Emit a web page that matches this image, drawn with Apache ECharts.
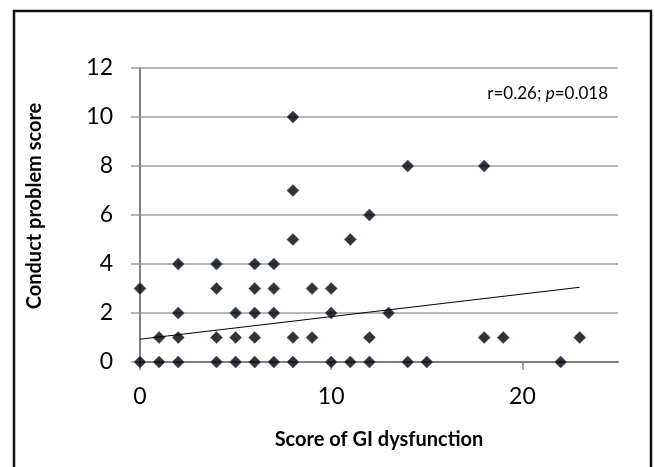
<!DOCTYPE html>
<html>
<head>
<meta charset="utf-8">
<script src="https://cdn.jsdelivr.net/npm/echarts@6/dist/echarts.min.js"></script>
<style>
  html, body { margin: 0; padding: 0; background: #fff; }
  #chart { width: 655px; height: 467px; }
</style>
</head>
<body>
<div id="chart"></div>
<script>
// GI dysfunction score (x) vs conduct problem score (y)
const giScore = [0, 0, 1, 1, 2, 2, 2, 2, 4, 4, 4, 4, 5, 5, 5, 6, 6, 6, 6, 6,
  7, 7, 7, 7, 8, 8, 8, 8, 8, 9, 9, 10, 10, 10, 11, 11, 12, 12, 12, 13,
  14, 14, 15, 18, 18, 19, 22, 23]
const conductScore = [0, 3, 0, 1, 0, 1, 2, 4, 0, 1, 3, 4, 0, 1, 2, 0, 1, 2, 3, 4,
  0, 2, 3, 4, 0, 1, 5, 7, 10, 1, 3, 0, 2, 3, 0, 5, 0, 1, 6, 2,
  0, 8, 0, 1, 8, 1, 0, 1]
// linear trend line end points
const trendX = [0, 23]
const trendY = [0.93, 3.05]
const xTicks = [0, 10, 20]

const font = 'Lato, "Open Sans", sans-serif'
const chart = echarts.init(document.getElementById('chart'))

chart.setOption({
  animation: false,
  title: {
    text: '{a|r=0.26; }{b|p}{a|=0.018}',
    right: 42,
    top: 80,
    textStyle: {
      rich: {
        a: { fontFamily: font, fontSize: 17, fontWeight: 'normal', color: '#000' },
        b: { fontFamily: font, fontSize: 17, fontWeight: 'normal', color: '#000', fontStyle: 'italic' }
      }
    }
  },
  graphic: [{
    type: 'rect',
    shape: { x: 14, y: 11, width: 637, height: 470 },
    style: { fill: 'none', stroke: '#111', lineWidth: 2.5 },
    silent: true
  }, {
    type: 'text',
    x: 35,
    y: 206,
    rotation: Math.PI / 2,
    style: {
      text: 'Conduct problem score',
      fontFamily: font,
      fontSize: 20,
      fontWeight: 'bold',
      fill: '#000',
      align: 'center',
      verticalAlign: 'middle'
    },
    silent: true
  }],
  grid: {
    left: 140,
    top: 68,
    right: 37,
    bottom: 105,
    containLabel: false,
    outerBoundsMode: 'none'
  },
  xAxis: {
    type: 'value',
    min: 0,
    max: 25,
    interval: 10,
    name: 'Score of GI dysfunction',
    nameLocation: 'middle',
    nameGap: 68,
    nameTextStyle: { fontFamily: font, fontSize: 20, fontWeight: 'bold', color: '#000' },
    axisLine: { show: true, lineStyle: { color: '#808080', width: 2 } },
    axisTick: {
      show: true,
      length: 8,
      customValues: xTicks,
      lineStyle: { color: '#808080', width: 1.5 }
    },
    axisLabel: {
      customValues: xTicks,
      margin: 23,
      fontFamily: font,
      fontSize: 23,
      color: '#000'
    },
    splitLine: { show: false }
  },
  yAxis: {
    type: 'value',
    min: 0,
    max: 12,
    interval: 2,
    axisLine: { show: true, lineStyle: { color: '#808080', width: 2 } },
    axisTick: { show: true, length: 9, lineStyle: { color: '#a0a0a0', width: 1.5 } },
    axisLabel: {
      margin: 27,
      fontFamily: font,
      fontSize: 23,
      color: '#000'
    },
    splitLine: { show: true, lineStyle: { color: '#a0a0a0', width: 1.5 } }
  },
  series: [{
    type: 'scatter',
    symbol: 'diamond',
    symbolSize: 12,
    itemStyle: {
      color: '#000',
      borderColor: '#3d5f94',
      borderWidth: 0.8
    },
    data: giScore.map((x, i) => [x, conductScore[i]]),
    z: 3
  }, {
    type: 'line',
    symbol: 'none',
    lineStyle: { color: '#000', width: 1 },
    data: trendX.map((x, i) => [x, trendY[i]]),
    z: 4
  }]
})
</script>
</body>
</html>
